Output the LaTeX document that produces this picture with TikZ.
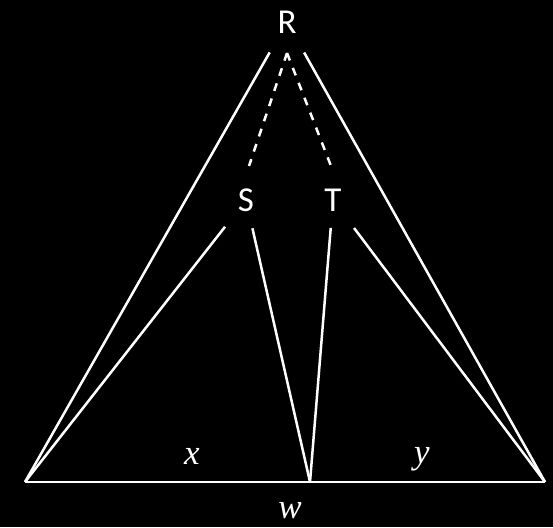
\documentclass[tikz,border=0pt]{standalone}
\usepackage{fontspec}
\setmainfont{Carlito}
\newfontfamily\mathitfont{Liberation Serif}
\begin{document}
\begin{tikzpicture}[x=1pt,y=-1pt,
  lbl/.style={text=white,inner sep=0pt,font=\fontsize{35}{35}\selectfont},
  var/.style={text=white,inner sep=0pt,font=\fontsize{35}{35}\selectfont\mathitfont\itshape},
  edge/.style={draw=white,line width=2.5pt},
  dash8/.style={draw=white,line width=2.5pt,dash pattern=on 8pt off 8pt}]
\fill[black] (0,0) rectangle (553,527);
\useasboundingbox (0,0) rectangle (553,527);
\node[lbl] (R) at (287,22) {R};
\node[lbl] (S) at (246,200) {S};
\node[lbl] (T) at (333,200) {T};
\coordinate (A) at (25,482);
\coordinate (B) at (545,482);
\coordinate (M) at (310,482);
\coordinate (P) at (287,53);
\coordinate (S0) at (249,166);
\coordinate (T0) at (331,166);
\draw[edge] (A) -- (B);
\draw[edge,shorten <=35pt] (R.center) -- (A);
\draw[edge,shorten <=35pt] (R.center) -- (B);
\draw[dash8] (P) -- (S0);
\draw[dash8] (P) -- (T0);
\draw[edge,shorten <=34pt] (S.center) -- (A);
\draw[edge,shorten <=29pt] (S.center) -- (M);
\draw[edge,shorten <=28pt] (T.center) -- (M);
\draw[edge,shorten <=35pt] (T.center) -- (B);
\node[var] (x) at (192,456) {x};
\node[var] (y) at (422,459) {y};
\node[var] (w) at (290,511) {w};
\end{tikzpicture}
\end{document}
